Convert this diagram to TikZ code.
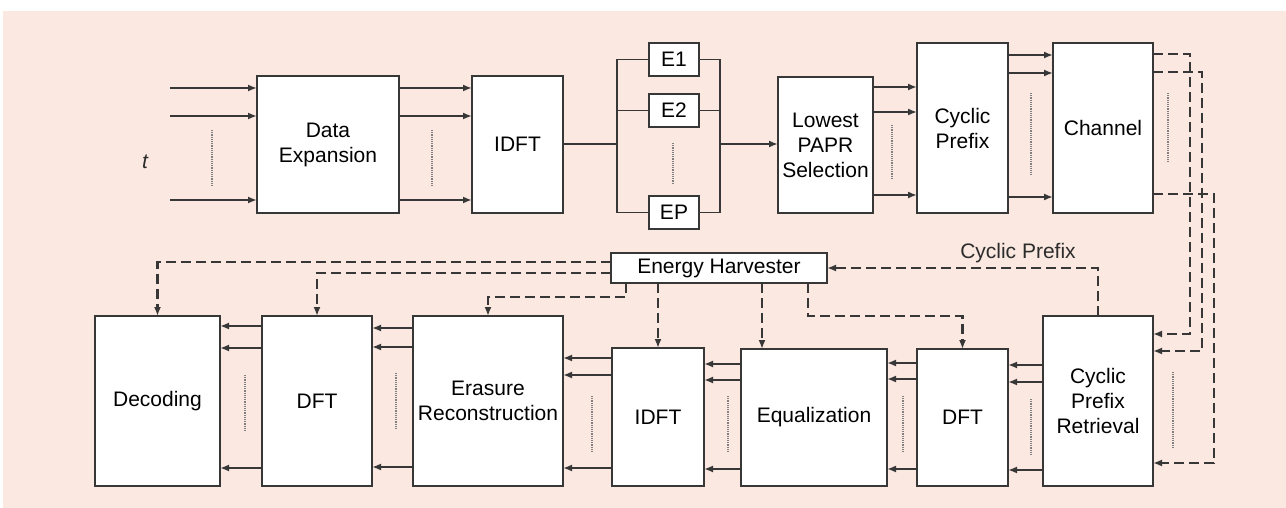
\documentclass[tikz,border=0pt]{standalone}
\usepackage{fontspec}
\setmainfont{Liberation Sans}
\usetikzlibrary{arrows.meta}
\definecolor{bgpink}{RGB}{250,232,225}
\definecolor{ink}{RGB}{55,55,55}
\begin{document}
\begin{tikzpicture}[x=1pt,y=-1pt,
 blk/.style={draw=ink, fill=white, line width=1.8pt, inner sep=0pt, outer sep=0pt, align=center, font=\fontsize{21}{25}\selectfont},
 arr/.style={draw=ink, line width=1.8pt, -{Latex[length=9pt,width=7pt]}},
 ln/.style={draw=ink, line width=1.8pt},
 dsh/.style={draw=ink, line width=2.2pt, dash pattern=on 10pt off 5pt},
 darr/.style={dsh, -{Latex[length=9pt,width=7pt]}},
 dots/.style={draw=gray, line width=1.2pt, densely dotted},
 lbl/.style={font=\fontsize{21}{25}\selectfont, inner sep=0pt, text=ink!80!black}]
\useasboundingbox (0,0) rectangle (1286,508);
\fill[bgpink] (3,11) rectangle (1286,508);

% top row
\node[blk, minimum width=142pt, minimum height=137pt] (DE) at (328,144.5) {Data\\Expansion};
\node[blk, minimum width=91pt, minimum height=137pt] (IDFTa) at (517.5,144.5) {IDFT};
\node[blk, minimum width=50pt, minimum height=33pt] (E1) at (674,59.5) {E1};
\node[blk, minimum width=50pt, minimum height=33pt] (E2) at (674,110.5) {E2};
\node[blk, minimum width=50pt, minimum height=33pt] (EP) at (674,212.5) {EP};
\node[blk, minimum width=95pt, minimum height=136pt] (LPS) at (825.5,145) {Lowest\\PAPR\\Selection};
\node[blk, minimum width=91pt, minimum height=170pt] (CP) at (962.5,128) {Cyclic\\Prefix};
\node[blk, minimum width=100pt, minimum height=170pt] (CH) at (1103,128) {Channel};

% bottom row
\node[blk, minimum width=216pt, minimum height=30pt] (EH) at (719,268) {Energy Harvester};
\node[blk, minimum width=125pt, minimum height=170pt] (Dec) at (157.5,401) {Decoding};
\node[blk, minimum width=110pt, minimum height=170pt] (DFTa) at (317,401) {DFT};
\node[blk, minimum width=150pt, minimum height=170pt] (ER) at (488,401) {Erasure\\Reconstruction};
\node[blk, minimum width=92pt, minimum height=138pt] (IDFTb) at (658,417) {IDFT};
\node[blk, minimum width=146pt, minimum height=137pt] (EQ) at (814,417.5) {Equalization};
\node[blk, minimum width=91pt, minimum height=137pt] (DFTb) at (962.5,417.5) {DFT};
\node[blk, minimum width=110pt, minimum height=170pt] (CPR) at (1098,401) {Cyclic\\Prefix\\Retrieval};

\node[lbl, font=\itshape\fontsize{21}{25}\selectfont] (t) at (145,162) {t};
\node[lbl] (cpl) at (1018,253) {Cyclic Prefix};

% inputs
\coordinate (in1) at (170,88);
\coordinate (in2) at (170,116);
\coordinate (in3) at (170,200);
\foreach \c in {in1,in2,in3} \draw[arr] (\c) -- (DE.west |- \c);

% DE -> IDFT
\foreach \yy in {88,116,200} \draw[arr] (DE.east |- 0,\yy) -- (IDFTa.west |- 0,\yy);

% E bus
\coordinate (busL) at (617,144);
\coordinate (busR) at (720,144);
\draw[ln] (IDFTa.east |- busL) -- (busL);
\draw[ln] (E1.west) -| (busL) |- (EP.west);
\draw[ln] (E2.west) -- (E2.west -| busL);
\draw[ln] (E1.east) -| (busR) |- (EP.east);
\draw[ln] (E2.east) -- (E2.east -| busR);
\draw[arr] (busR) -- (LPS.west |- busR);

% LPS -> CP
\foreach \yy in {87,112,195} \draw[arr] (LPS.east |- 0,\yy) -- (CP.west |- 0,\yy);
% CP -> CH
\foreach \yy in {55,73,197} \draw[arr] (CP.east |- 0,\yy) -- (CH.west |- 0,\yy);

% channel -> CPR dashed
\draw[darr] (CH.east |- 0,54) -- ++(37,0) |- (CPR.east |- 0,334);
\draw[darr] (CH.east |- 0,72) -- ++(49,0) |- (CPR.east |- 0,351);
\draw[darr] (CH.east |- 0,194) -- ++(61,0) |- (CPR.east |- 0,463);

% CPR -> EH
\draw[darr] (CPR.north) |- (EH.east);

% EH -> blocks
\draw[darr] (EH.west |- 0,262) -| (Dec.north);
\draw[darr] (EH.west |- 0,273) -| (DFTa.north);
\draw[darr] (EH.south -| 626,0) -- ++(0,14) -| (ER.north);
\draw[darr] (EH.south -| IDFTb.north) -- (IDFTb.north);
\draw[darr] (EH.south -| 762,0) -- (EQ.north -| 762,0);
\draw[darr] (EH.south -| 808,0) -- ++(0,33) -| (DFTb.north);

% bottom arrows (leftwards)
\foreach \yy in {365,382,470} \draw[arr] (CPR.west |- 0,\yy) -- (DFTb.east |- 0,\yy);
\foreach \yy in {363,379,469} \draw[arr] (DFTb.west |- 0,\yy) -- (EQ.east |- 0,\yy);
\foreach \yy in {364,380,469} \draw[arr] (EQ.west |- 0,\yy) -- (IDFTb.east |- 0,\yy);
\foreach \yy in {358,375,468} \draw[arr] (IDFTb.west |- 0,\yy) -- (ER.east |- 0,\yy);
\foreach \yy in {328,347,467} \draw[arr] (ER.west |- 0,\yy) -- (DFTa.east |- 0,\yy);
\foreach \yy in {326,348,468} \draw[arr] (DFTa.west |- 0,\yy) -- (Dec.east |- 0,\yy);

% dotted separators
\draw[dots] (212,130) -- (212,187);
\draw[dots] (432,130) -- (432,187);
\draw[dots] (673,143) -- (673,183);
\draw[dots] (892,125) -- (892,180);
\draw[dots] (1031,93) -- (1031,175);
\draw[dots] (1168,93) -- (1168,163);
\draw[dots] (245,375) -- (245,432);
\draw[dots] (396,373) -- (396,430);
\draw[dots] (592,396) -- (592,452);
\draw[dots] (728,396) -- (728,452);
\draw[dots] (903,396) -- (903,452);
\draw[dots] (1031,399) -- (1031,455);
\draw[dots] (1173,372) -- (1173,448);
\end{tikzpicture}
\end{document}
